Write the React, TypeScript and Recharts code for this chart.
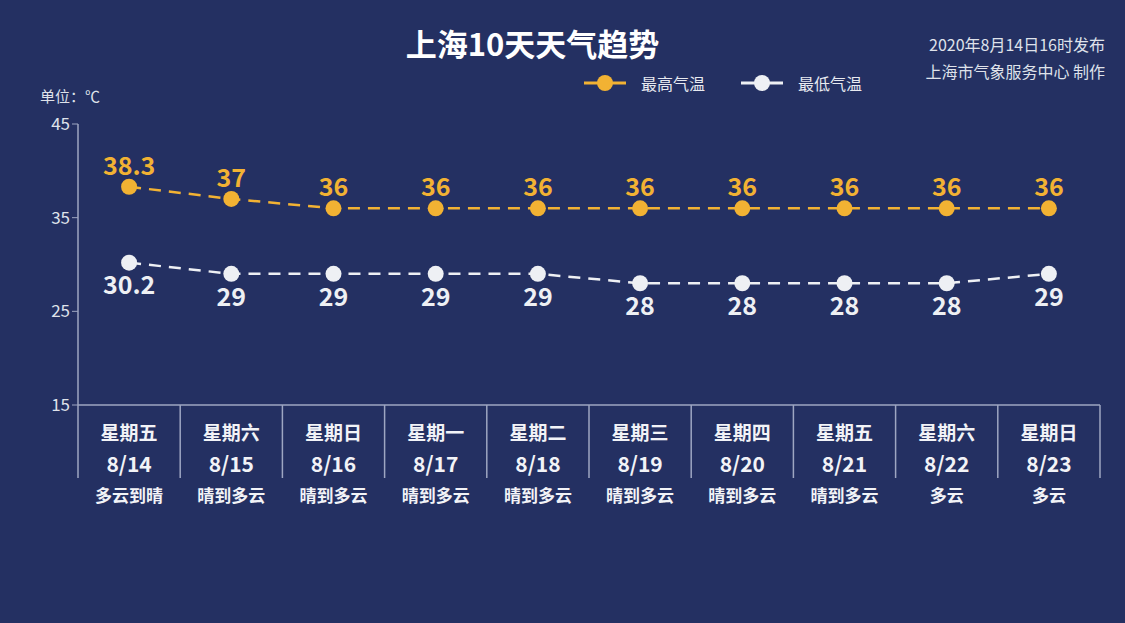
import React from 'react';
import { LineChart, Line, XAxis, YAxis, LabelList } from 'recharts';

const weekdays = ['星期五', '星期六', '星期日', '星期一', '星期二', '星期三', '星期四', '星期五', '星期六', '星期日'];
const dates = ['8/14', '8/15', '8/16', '8/17', '8/18', '8/19', '8/20', '8/21', '8/22', '8/23'];
const weather = ['多云到晴', '晴到多云', '晴到多云', '晴到多云', '晴到多云', '晴到多云', '晴到多云', '晴到多云', '多云', '多云'];
const highTemps = [38.3, 37, 36, 36, 36, 36, 36, 36, 36, 36];
const lowTemps = [30.2, 29, 29, 29, 29, 28, 28, 28, 28, 29];
const yTicks = [15, 25, 35, 45];

const data = dates.map((d, i) => ({
  date: d,
  weekday: weekdays[i],
  weather: weather[i],
  high: highTemps[i],
  low: lowTemps[i],
}));

const BG = '#243062';
const AXIS = '#9ea6c2';
const ORANGE = '#f2b233';
const WHITE = '#eef0f4';
const FONT = '"Noto Sans CJK SC", "Noto Sans", sans-serif';

const BAND = 1022 / dates.length;

function DayTick(props: any) {
  const { x, y, index } = props;
  const d = data[index];
  return (
    <g>
      <line x1={x - BAND / 2} x2={x - BAND / 2} y1={y} y2={y + 73} stroke={AXIS} strokeWidth={1.5} />
      {index === data.length - 1 && (
        <line x1={x + BAND / 2} x2={x + BAND / 2} y1={y} y2={y + 73} stroke={AXIS} strokeWidth={1.5} />
      )}
      <text x={x} y={y + 35} textAnchor="middle" fill="#f2f3f7" fontSize={19} fontWeight="bold" fontFamily={FONT}>
        {d.weekday}
      </text>
      <text x={x} y={y + 67} textAnchor="middle" fill="#f2f3f7" fontSize={21} fontWeight="bold" fontFamily={FONT}>
        {d.date}
      </text>
      <text x={x} y={y + 97} textAnchor="middle" fill="#f2f3f7" fontSize={17} fontWeight="bold" fontFamily={FONT}>
        {d.weather}
      </text>
    </g>
  );
}

function LegendItem({ color, label }: { color: string; label: string }) {
  return (
    <div style={{ display: 'flex', alignItems: 'center', marginRight: 36 }}>
      <svg width={42} height={18}>
        <line x1={0} x2={42} y1={9} y2={9} stroke={color} strokeWidth={3} />
        <circle cx={21} cy={9} r={8} fill={color} />
      </svg>
      <span style={{ color: '#e8eaf0', fontSize: 16, marginLeft: 15 }}>{label}</span>
    </div>
  );
}

export default function App() {
  return (
    <div style={{ position: 'fixed', left: 0, top: 0, width: 1125, height: 623, background: BG, fontFamily: FONT, overflow: 'hidden' }}>
      <div style={{ position: 'absolute', left: 0, width: 1065, top: 20, textAlign: 'center', color: '#ffffff', fontSize: 31, fontWeight: 'bold' }}>
        上海10天天气趋势
      </div>
      <div style={{ position: 'absolute', right: 20, top: 31, textAlign: 'right', color: '#dfe2ea', fontSize: 16, lineHeight: '27px' }}>
        <div>2020年8月14日16时发布</div>
        <div>上海市气象服务中心 制作</div>
      </div>
      <div style={{ position: 'absolute', left: 584, top: 71, display: 'flex' }}>
        <LegendItem color={ORANGE} label="最高气温" />
        <LegendItem color={WHITE} label="最低气温" />
      </div>
      <div style={{ position: 'absolute', left: 40, top: 85, color: '#dfe2ea', fontSize: 15 }}>单位：℃</div>
      <LineChart width={1125} height={623} data={data} margin={{ top: 124, right: 25, left: 38, bottom: 0 }}>
        <XAxis
          dataKey="date"
          height={218}
          padding={{ left: BAND / 2, right: BAND / 2 }}
          axisLine={{ stroke: AXIS, strokeWidth: 1.5 }}
          tickLine={false}
          tickSize={0}
          tickMargin={0}
          interval={0}
          tick={<DayTick />}
        />
        <YAxis
          width={40}
          domain={[15, 45]}
          ticks={yTicks}
          axisLine={{ stroke: AXIS, strokeWidth: 1.5 }}
          tickLine={{ stroke: AXIS }}
          tickSize={6}
          tick={{ fill: '#dfe2ea', fontSize: 17, fontFamily: FONT }}
        />
        <Line
          dataKey="high"
          name="最高气温"
          stroke={ORANGE}
          strokeWidth={2.5}
          strokeDasharray="12 8"
          dot={{ r: 8, fill: ORANGE, stroke: 'none' }}
          isAnimationActive={false}
        >
          <LabelList dataKey="high" position="top" offset={12} fill={ORANGE} fontSize={25} fontWeight="bold" fontFamily={FONT} />
        </Line>
        <Line
          dataKey="low"
          name="最低气温"
          stroke={WHITE}
          strokeWidth={2.5}
          strokeDasharray="12 8"
          dot={{ r: 8, fill: WHITE, stroke: 'none' }}
          isAnimationActive={false}
        >
          <LabelList dataKey="low" position="bottom" offset={14} fill={WHITE} fontSize={25} fontWeight="bold" fontFamily={FONT} />
        </Line>
      </LineChart>
    </div>
  );
}
